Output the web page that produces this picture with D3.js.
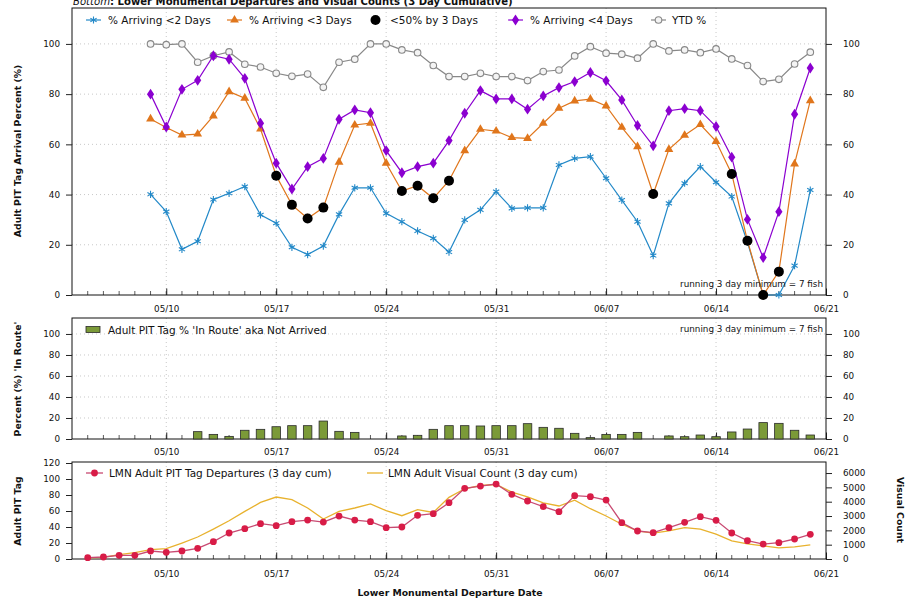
<!DOCTYPE html>
<html>
<head>
<meta charset="utf-8">
<script src="https://cdn.jsdelivr.net/npm/d3@7"></script>
<style>
  body { margin: 0; background: #fff; }
  svg { font-family: "DejaVu Sans", sans-serif; }
</style>
</head>
<body>
<svg id="chart" width="907" height="600"></svg>
<script>
// ---- data ----
const arrivalDays = [
  "05/09","05/10","05/11","05/12","05/13","05/14","05/15","05/16","05/17","05/18",
  "05/19","05/20","05/21","05/22","05/23","05/24","05/25","05/26","05/27","05/28",
  "05/29","05/30","05/31","06/01","06/02","06/03","06/04","06/05","06/06","06/07",
  "06/08","06/09","06/10","06/11","06/12","06/13","06/14","06/15","06/16","06/17",
  "06/18","06/19","06/20"
];
const arriving2 = [40.1,33.2,18.2,21.4,38,40.5,43.2,31.9,28.6,19,16.1,19.5,32.1,42.7,42.7,32.5,29.2,25.5,22.6,17.1,29.9,33.9,41.2,
  34.5,34.7,34.7,51.8,54.4,55.1,46.5,37.8,29.2,15.7,36.5,44.5,51.1,44.9,39.2,21,0,0,11.7,41.8];
const arriving3 = [70.1,66.7,63.7,64.1,71.3,81,78.4,66.1,47.5,35.9,30.5,34.8,52.9,67.7,68.4,52.5,41.4,43.5,38.5,45.5,57.5,66,65.3,
  62.7,62.4,68.4,74.4,77.3,78,75.3,66.8,59.1,40.2,58,63.6,67.9,61.2,48.2,21.6,0,9.3,52.2,77.4];
const arriving4 = [80,66.9,81.9,85.5,95.3,93.9,86.3,68.4,52.5,42.2,51.1,54.4,70,73.7,72.6,57.5,48.7,51.1,52.5,61.5,72.4,81.4,78.1,
  78.1,74,79.3,82.6,85,88.6,85.3,77.7,67.5,59.4,73.4,74.2,73.4,67.1,54.9,30.1,14.9,33.2,72,90.4];
const ytdPct = [100,99.7,100,92.7,95.3,96.8,91.9,90.8,88.3,87.1,88,82.7,92.7,93.9,100,100,97.6,96.5,91.4,87,87,88.3,87,
  87,85.4,89,89.6,95.2,98.9,96.3,95.9,94.3,100,97.2,97.6,96.5,98,94,91.4,85,85.9,92,96.7];
const inRoute = [0,0,0,7,4.4,2.5,8.3,9.2,11.7,12.7,12.7,17.1,7.3,6.3,0,0,2.9,3.5,9.2,12.7,12.7,12.4,12.7,
  12.7,14.6,11.1,10.2,5.4,1.3,4.4,4.4,6.3,0,2.9,2.2,3.8,2.2,6.7,9.5,15.6,14.9,8.3,3.8];

const departureDays = [
  "05/05","05/06","05/07","05/08",
  "05/09","05/10","05/11","05/12","05/13","05/14","05/15","05/16","05/17","05/18",
  "05/19","05/20","05/21","05/22","05/23","05/24","05/25","05/26","05/27","05/28",
  "05/29","05/30","05/31","06/01","06/02","06/03","06/04","06/05","06/06","06/07",
  "06/08","06/09","06/10","06/11","06/12","06/13","06/14","06/15","06/16","06/17",
  "06/18","06/19","06/20"
];
const pitDepartures = [1.7,2.5,4.6,4.6,10,8.3,10,13.3,21.7,32.5,37.9,44.2,41.7,46.7,48.7,46.2,53.7,48.7,46.7,39.2,40,54.6,56.7,70.4,88.3,91.2,93.7,
  80.8,72.5,65.4,59.2,79.2,77.9,73.7,45.4,35,32.9,39.2,45.8,52.9,48.3,32.5,22.9,18.7,20.4,25,30.8];
const visualCount = [80,110,300,450,650,720,1115,1535,2090,2670,3320,3950,4325,4140,3560,2790,3320,3560,3840,3370,3020,3440,3250,4300,4900,5130,5200,
  4665,4340,3925,3700,4110,3510,3000,2425,1960,1800,1960,2190,2080,1730,1270,1050,920,780,850,990];

const weekLabels = ["05/10","05/17","05/24","05/31","06/07","06/14","06/21"];
const pctTicks = [0,20,40,60,80,100];
const pitTicks = [0,20,40,60,80,100,120];
const countTicks = [0,1000,2000,3000,4000,5000,6000];

// ---- helpers ----
const parseDay = s => { const [m, d] = s.split("/").map(Number); return new Date(Date.UTC(2023, m - 1, d)); };
const svg = d3.select("#chart");
const L = 72, R = 826;
const x = d3.scaleUtc().domain([parseDay("05/04"), parseDay("06/21")]).range([L, R]);
const weekDates = weekLabels.map(parseDay);
const dayTicks = d3.utcDay.range(parseDay("05/05"), parseDay("06/21"));
const fmt = d3.utcFormat("%m/%d");
const TICK_FONT = 8.8;

const C = {
  blue: "#2389c8", orange: "#e0761c", purple: "#8b00d0", grey: "#888888",
  green: "#7b9a38", red: "#d81c47", redLine: "#c84a72", yellow: "#e8b22e"
};

function panel(top, bottom, yScale, opts) {
  const g = svg.append("g");
  // grid
  if (opts.hGrid) {
    g.selectAll(".hg").data(opts.hGrid).join("line")
      .attr("x1", L).attr("x2", R)
      .attr("y1", d => yScale(d)).attr("y2", d => yScale(d))
      .attr("stroke", "#c8c8c8").attr("stroke-dasharray", "1,3");
  }
  g.selectAll(".vg").data(weekDates.slice(0, -1)).join("line")
    .attr("x1", d => x(d)).attr("x2", d => x(d))
    .attr("y1", top).attr("y2", bottom)
    .attr("stroke", "#c8c8c8").attr("stroke-dasharray", "1,3");
  // daily minor ticks
  g.selectAll(".mt").data(dayTicks).join("line")
    .attr("x1", d => x(d)).attr("x2", d => x(d))
    .attr("y1", bottom).attr("y2", bottom - 4)
    .attr("stroke", "#333").attr("stroke-width", 0.8);
  // weekly axis
  const ax = g.append("g").attr("transform", `translate(0,${bottom})`)
    .call(d3.axisBottom(x).tickValues(weekDates).tickFormat(fmt)
      .tickSizeInner(-6.5).tickSizeOuter(0).tickPadding(opts.xPad));
  ax.select(".domain").remove();
  ax.selectAll("text").attr("font-size", TICK_FONT).attr("fill", "#111").attr("font-family", "DejaVu Sans");
  ax.selectAll("line").attr("stroke", "#222");
  // frame
  g.append("rect").attr("x", L).attr("y", top).attr("width", R - L).attr("height", bottom - top)
    .attr("fill", "none").attr("stroke", "#111").attr("stroke-width", 1);
  return g;
}

function yAxes(g, leftScale, leftTicks, rightScale, rightTicks) {
  const la = g.append("g").attr("transform", `translate(${L},0)`)
    .call(d3.axisLeft(leftScale).tickValues(leftTicks).tickFormat(d3.format("d"))
      .tickSizeOuter(0).tickSize(6).tickPadding(6));
  const ra = g.append("g").attr("transform", `translate(${R},0)`)
    .call(d3.axisRight(rightScale).tickValues(rightTicks).tickFormat(d3.format("d"))
      .tickSizeOuter(0).tickSize(6).tickPadding(11));
  [la, ra].forEach(a => {
    a.select(".domain").remove();
    a.selectAll("text").attr("font-size", TICK_FONT).attr("fill", "#111").attr("font-family", "DejaVu Sans");
    a.selectAll("line").attr("stroke", "#222");
  });
}

function yTitle(text, cx, cy, rot) {
  svg.append("text").attr("transform", `translate(${cx},${cy}) rotate(${rot})`)
    .attr("text-anchor", "middle").attr("dominant-baseline", "middle")
    .attr("font-size", 9.3).attr("font-weight", "bold").attr("fill", "#111").text(text);
}

// ---- title ----
const title = svg.append("text").attr("x", 73).attr("y", 4.5).attr("font-size", 10.1).attr("fill", "#111");
title.append("tspan").attr("font-style", "italic").text("Bottom");
title.append("tspan").attr("font-weight", "bold").text(": Lower Monumental Departures and Visual Counts (3 Day Cumulative)");

// ---- top panel: arrival percentages ----
const yTop = d3.scaleLinear().domain([0, 114.3]).range([295, 8]);
const gTop = panel(8, 295, yTop, { hGrid: [20, 40, 60, 80, 100], xPad: 11 });
yAxes(gTop, yTop, pctTicks, yTop, pctTicks);
yTitle("Adult PIT Tag Arrival Percent (%)", 18, 151, -90);

const arrDates = arrivalDays.map(parseDay);
const lineOf = (vals, ys) => d3.line().x((d, i) => x(arrDates[i])).y(d => ys(d))(vals);

function drawSeries(vals, color, markerFn) {
  gTop.append("path").attr("d", lineOf(vals, yTop)).attr("fill", "none")
    .attr("stroke", color).attr("stroke-width", 1.2);
  const m = gTop.append("g");
  vals.forEach((v, i) => markerFn(m, x(arrDates[i]), yTop(v)));
}
const symAst = d3.symbol(d3.symbolAsterisk, 36)();
const symTri = d3.symbol(d3.symbolTriangle, 34)();
const symDia = d3.symbol(d3.symbolDiamond, 34)();

const mkAst = (g, cx, cy) => g.append("path").attr("d", symAst).attr("transform", `translate(${cx},${cy})`)
  .attr("fill", "none").attr("stroke", C.blue).attr("stroke-width", 1.1);
const mkTri = (g, cx, cy) => g.append("path").attr("d", symTri).attr("transform", `translate(${cx},${cy})`)
  .attr("fill", C.orange);
const mkDia = (g, cx, cy) => g.append("path").attr("d", symDia).attr("transform", `translate(${cx},${cy}) scale(1.15,1)`)
  .attr("fill", C.purple);
const mkRing = (g, cx, cy) => g.append("circle").attr("cx", cx).attr("cy", cy).attr("r", 3.3)
  .attr("fill", "#f4f4f4").attr("stroke", C.grey).attr("stroke-width", 1.1);
const mkDot = (g, cx, cy) => g.append("circle").attr("cx", cx).attr("cy", cy).attr("r", 5).attr("fill", "#000");

drawSeries(ytdPct, C.grey, mkRing);
drawSeries(arriving2, C.blue, mkAst);
drawSeries(arriving3, C.orange, mkTri);
drawSeries(arriving4, C.purple, mkDia);
// days where fewer than half arrived within 3 days
const under50 = gTop.append("g");
arriving3.forEach((v, i) => { if (v < 50) mkDot(under50, x(arrDates[i]), yTop(v)); });

// top legend
const legTop = svg.append("g").attr("font-size", 10.5).attr("fill", "#111");
const legItems = [
  { label: "% Arriving <2 Days", color: C.blue, mk: mkAst, x0: 86, tx: 108 },
  { label: "% Arriving <3 Days", color: C.orange, mk: mkTri, x0: 227, tx: 249 },
  { label: "<50% by 3 Days", color: null, mk: mkDot, x0: 368, tx: 390 },
  { label: "% Arriving <4 Days", color: C.purple, mk: mkDia, x0: 508, tx: 530 },
  { label: "YTD %", color: C.grey, mk: mkRing, x0: 651, tx: 672 }
];
legItems.forEach(it => {
  if (it.color) legTop.append("line").attr("x1", it.x0).attr("x2", it.x0 + 15).attr("y1", 20).attr("y2", 20)
    .attr("stroke", it.color).attr("stroke-width", 1.2);
  it.mk(legTop, it.x0 + 7.5, 20);
  legTop.append("text").attr("x", it.tx).attr("y", 24).attr("fill", "#111").text(it.label);
});
svg.append("text").attr("x", 823).attr("y", 286.5).attr("text-anchor", "end")
  .attr("font-size", 8.8).attr("fill", "#111").text("running 3 day minimum = 7 fish");

// ---- middle panel: in route ----
const yMid = d3.scaleLinear().domain([0, 115.2]).range([439, 318]);
const gMid = panel(318, 439, yMid, { hGrid: [20, 40, 60, 80, 100], xPad: 10 });
yAxes(gMid, yMid, pctTicks, yMid, pctTicks);
yTitle("Percent (%) 'In Route'", 18, 379, -90);
const barW = 8.5;
gMid.append("g").selectAll("rect").data(inRoute.map((v, i) => ({ d: arrDates[i], v })).filter(o => o.v > 0)).join("rect")
  .attr("x", o => x(o.d) - barW / 2).attr("width", barW)
  .attr("y", o => yMid(o.v)).attr("height", o => yMid(0) - yMid(o.v))
  .attr("fill", C.green).attr("stroke", "#2a2a2a").attr("stroke-width", 0.8);
svg.append("rect").attr("x", 86).attr("y", 326.5).attr("width", 14).attr("height", 6)
  .attr("fill", C.green).attr("stroke", "#2a2a2a").attr("stroke-width", 0.8);
svg.append("text").attr("x", 108).attr("y", 333.5).attr("font-size", 10.5).attr("fill", "#111")
  .text("Adult PIT Tag % 'In Route' aka Not Arrived");
svg.append("text").attr("x", 823).attr("y", 332).attr("text-anchor", "end")
  .attr("font-size", 8.8).attr("fill", "#111").text("running 3 day minimum = 7 fish");

// ---- bottom panel: departures and visual counts ----
const yPit = d3.scaleLinear().domain([0, 121.25]).range([559, 462]);
const yCnt = d3.scaleLinear().domain([0, 6770]).range([559, 462]);
const gBot = panel(462, 559, yPit, { hGrid: null, xPad: 12 });
yAxes(gBot, yPit, pitTicks, yCnt, countTicks);
yTitle("Adult PIT Tag", 18, 511, -90);
yTitle("Visual Count", 899, 510, 90);

const depDates = departureDays.map(parseDay);
gBot.append("path")
  .attr("d", d3.line().x((d, i) => x(depDates[i])).y(d => yCnt(d))(visualCount))
  .attr("fill", "none").attr("stroke", C.yellow).attr("stroke-width", 1.3);
gBot.append("path")
  .attr("d", d3.line().x((d, i) => x(depDates[i])).y(d => yPit(d))(pitDepartures))
  .attr("fill", "none").attr("stroke", C.redLine).attr("stroke-width", 1.3);
gBot.append("g").selectAll("circle").data(pitDepartures).join("circle")
  .attr("cx", (d, i) => x(depDates[i])).attr("cy", d => yPit(d)).attr("r", 3.4)
  .attr("fill", C.red);

const legBot = svg.append("g").attr("font-size", 10.5).attr("fill", "#111");
legBot.append("line").attr("x1", 86).attr("x2", 103).attr("y1", 473).attr("y2", 473)
  .attr("stroke", C.redLine).attr("stroke-width", 1.3);
legBot.append("circle").attr("cx", 94.5).attr("cy", 473).attr("r", 3.4).attr("fill", C.red);
legBot.append("text").attr("x", 109).attr("y", 477).text("LMN Adult PIT Tag Departures (3 day cum)");
legBot.append("line").attr("x1", 367).attr("x2", 383).attr("y1", 473).attr("y2", 473)
  .attr("stroke", C.yellow).attr("stroke-width", 1.3);
legBot.append("text").attr("x", 388).attr("y", 477).text("LMN Adult Visual Count (3 day cum)");

svg.append("text").attr("x", 450).attr("y", 595.5).attr("text-anchor", "middle")
  .attr("font-size", 9.3).attr("font-weight", "bold").attr("fill", "#111")
  .text("Lower Monumental Departure Date");
</script>
</body>
</html>
